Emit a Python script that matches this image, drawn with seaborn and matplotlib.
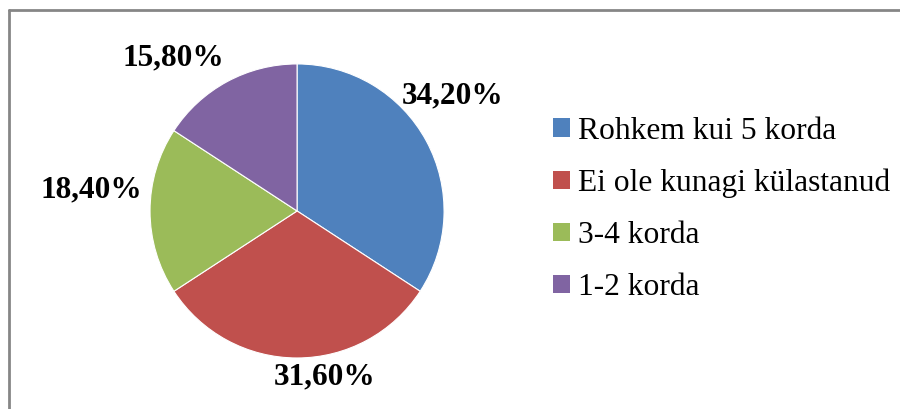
import matplotlib
matplotlib.use("Agg")
import matplotlib.pyplot as plt
from matplotlib.patches import Patch
from matplotlib.lines import Line2D
import numpy as np
import seaborn as sns

# data
categories = ['Rohkem kui 5 korda', 'Ei ole kunagi külastanud', '3-4 korda', '1-2 korda']
shares = [34.2, 31.6, 18.4, 15.8]
pct_labels = ['34,20%', '31,60%', '18,40%', '15,80%']
colors = ['#4F81BD', '#C0504D', '#9BBB59', '#8064A2']

# label spots (in pie radius units), Excel "best fit" style
label_xy = [(1.06, 0.78), (0.19, -1.13), (-1.40, 0.14), (-0.84, 1.04)]

sns.set_theme(style="white")
plt.rcParams['font.family'] = ['Liberation Serif', 'DejaVu Serif']
plt.rcParams['text.color'] = 'black'

fig = plt.figure(figsize=(9, 4.09), dpi=100)
ax = fig.add_axes([0.1667, 0.1247, 0.3267, 0.719])

pal = sns.color_palette(colors)
wedges, _ = ax.pie(shares, colors=pal, startangle=90, counterclock=False,
                   wedgeprops=dict(edgecolor='white', linewidth=0.8))
ax.set_xlim(-1, 1)
ax.set_ylim(-1, 1)
ax.set_aspect('equal')

for (x, y), txt in zip(label_xy, pct_labels):
    ax.text(x, y, txt, ha='center', va='center', fontsize=22.5,
            fontweight='bold', color='black', clip_on=False)

handles = [Patch(facecolor=c, edgecolor='none') for c in pal]
leg = fig.legend(handles, categories, loc='center left',
                 bbox_to_anchor=(537 / 900, 0.488), frameon=False,
                 fontsize=22.7, handlelength=0.54, handleheight=0.54,
                 handletextpad=0.25, labelspacing=0.73, borderpad=0)
for t in leg.get_texts():
    t.set_color('black')

# chart frame (only top/left edges visible in crop)
fig.add_artist(Line2D([9 / 900, 9 / 900], [0, 1 - 10 / 409], color='#868686', lw=2))
fig.add_artist(Line2D([9 / 900, 1], [1 - 10 / 409, 1 - 10 / 409], color='#868686', lw=2))

fig.savefig('out.png', dpi=100)
